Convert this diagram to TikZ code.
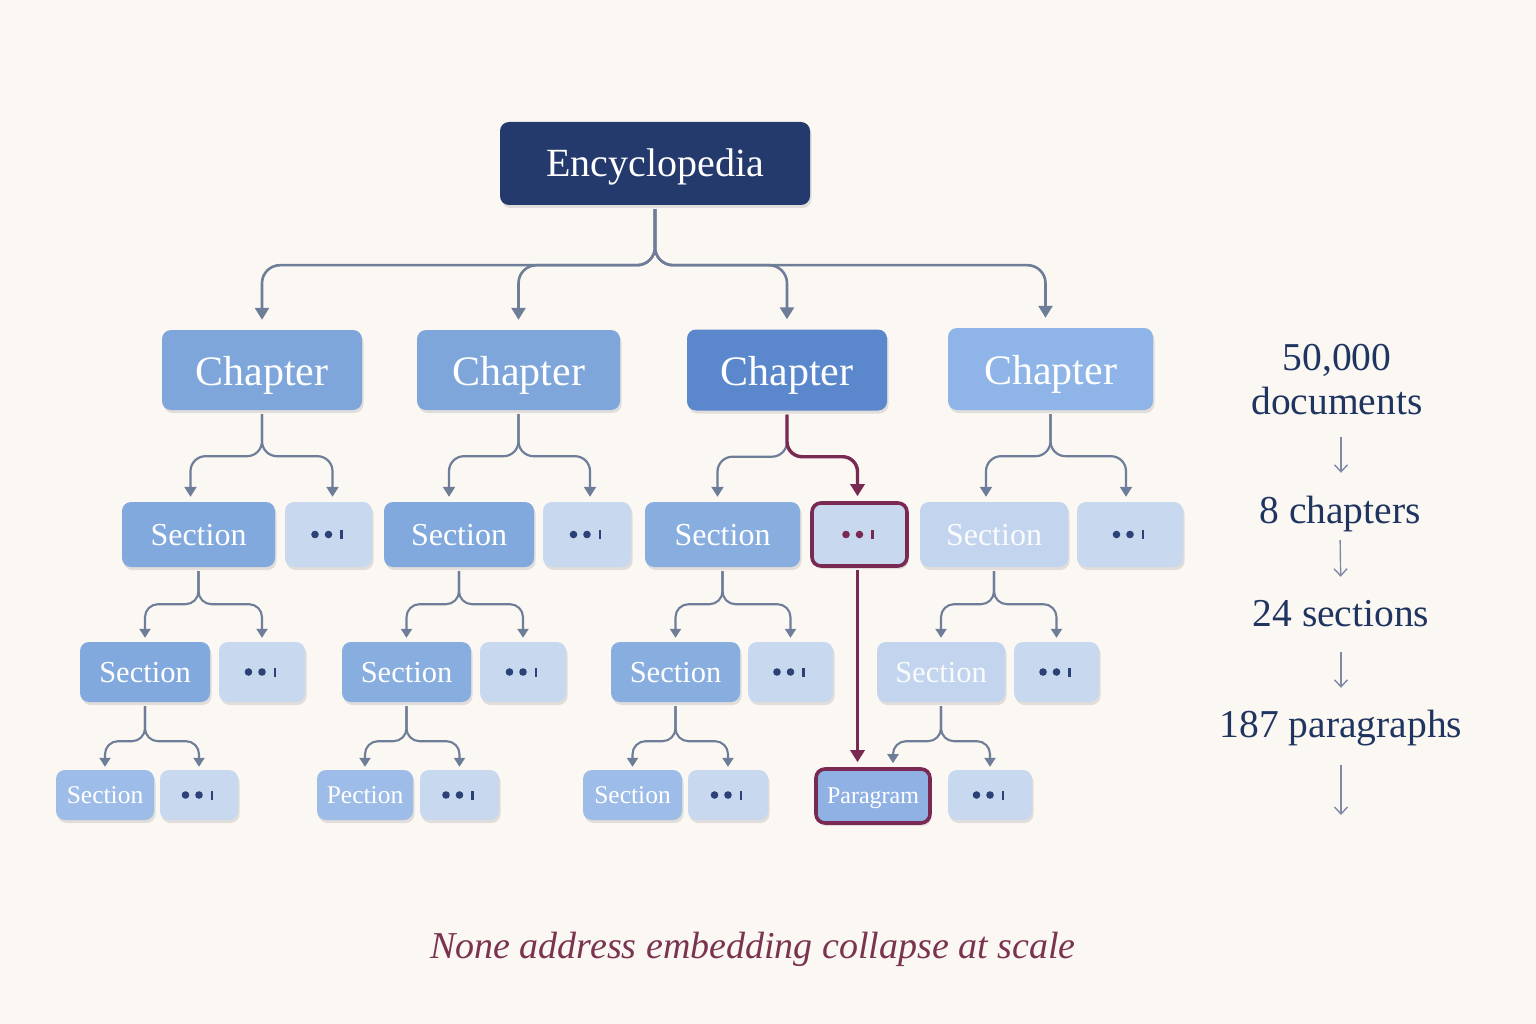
\documentclass[tikz,border=0pt]{standalone}
\usepackage{fontspec}
\setmainfont{Liberation Serif}
\usetikzlibrary{arrows.meta,shadows}
\definecolor{bg}{HTML}{FBF7F3}
\definecolor{navy}{HTML}{24396C}
\definecolor{chA}{HTML}{7EA6DB}
\definecolor{chB}{HTML}{5B87CC}
\definecolor{chC}{HTML}{8FB4E7}
\definecolor{secA}{HTML}{82A9DD}
\definecolor{secB}{HTML}{88AEE0}
\definecolor{secC}{HTML}{9DBDE8}
\definecolor{secP}{HTML}{C3D5EE}
\definecolor{dotbox}{HTML}{C8D8EE}
\definecolor{parfill}{HTML}{8FB1E3}
\definecolor{connc}{HTML}{6E7E98}
\definecolor{maroon}{HTML}{7A2A52}
\definecolor{txt}{HTML}{1F3560}
\definecolor{dotc}{HTML}{2C4178}
\definecolor{capc}{HTML}{7A3450}
\definecolor{statarrow}{HTML}{7F8AA6}
\begin{document}
\begin{tikzpicture}[x=1pt,y=-1pt,
  box/.style={rectangle, rounded corners=9pt, inner sep=0pt, text=white,
    drop shadow={shadow xshift=1.5pt, shadow yshift=-3pt, opacity=0.10, fill=black}},
  encbox/.style={box, fill=navy, minimum width=310pt, minimum height=83pt,
    font=\fontsize{40}{42}\selectfont, text height=27pt, text depth=0pt},
  chap/.style={box, minimum width=200pt, minimum height=80pt,
    font=\fontsize{42}{44}\selectfont, text height=31pt, text depth=0pt},
  sectwo/.style={box, minimum height=65pt, font=\fontsize{32}{34}\selectfont,
    text height=21pt, text depth=0pt},
  secthree/.style={box, minimum height=60pt, font=\fontsize{30.5}{32}\selectfont,
    text height=20pt, text depth=0pt},
  secfour/.style={box, minimum height=50pt, font=\fontsize{25.5}{27}\selectfont,
    text height=16pt, text depth=0pt},
  dotmarks/.style={path picture={
    \fill[#1, sharp corners] ([xshift=-13.5pt]path picture bounding box.center) circle[radius=3.8pt];
    \fill[#1, sharp corners] (path picture bounding box.center) circle[radius=3.8pt];
    \fill[#1, sharp corners] ([xshift=11.5pt,yshift=-4.5pt]path picture bounding box.center) rectangle ++(2.8pt,9pt);}},
  dotbx/.style={box, fill=dotbox, dotmarks=dotc},
  lvlone/.style={draw=connc, line width=2.6pt, rounded corners=18pt, shorten <=4pt,
    -{Triangle[length=12pt,width=14pt]}, shorten >=10pt},
  lvltwo/.style={draw=connc, line width=2.2pt, rounded corners=15pt, shorten <=4pt,
    -{Triangle[length=10pt,width=12pt]}, shorten >=5pt},
  lvlthree/.style={draw=connc, line width=2.1pt, rounded corners=13pt, shorten <=4pt,
    -{Triangle[length=9pt,width=11pt]}, shorten >=4pt},
  redconn/.style={draw=maroon, line width=3.4pt, rounded corners=15pt,
    -{Triangle[length=12pt,width=14pt]}},
  stat/.style={text=txt, font=\fontsize{39.5}{42}\selectfont, inner sep=0pt, anchor=base,
    text height=26pt, text depth=8pt},
  statarr/.style={draw=statarrow, line width=1.4pt, -{Straight Barb[length=7pt,width=13pt]}}
]
\fill[bg] (0,0) rectangle (1536,1024);
\useasboundingbox (0,0) rectangle (1536,1024);

% root
\node[encbox] (enc) at (655,163.5) {Encyclopedia};

% chapters
\node[chap, fill=chA] (c1) at (262,370) {Chapter};
\node[chap, fill=chA, minimum width=203pt] (c2) at (518.5,370) {Chapter};
\node[chap, fill=chB, minimum height=81pt] (c3) at (787,370) {Chapter};
\node[chap, fill=chC, minimum width=205pt, minimum height=82pt] (c4) at (1050.5,369) {Chapter};

% row 2
\node[sectwo, fill=secA, minimum width=153pt] (s21) at (198.5,534.5) {Section};
\node[dotbx, minimum width=87pt, minimum height=65pt] (d21) at (328.5,534.5) {};
\node[sectwo, fill=secA, minimum width=150pt] (s22) at (459,534.5) {Section};
\node[dotbx, minimum width=88pt, minimum height=65pt] (d22) at (587,534.5) {};
\node[sectwo, fill=secB, minimum width=155pt] (s23) at (722.5,534.5) {Section};
\node[box, fill=dotbox, draw=maroon, line width=3.6pt, dotmarks=maroon, minimum width=95pt, minimum height=63pt] (d23) at (859.5,534.5) {};
\node[sectwo, fill=secP, text=white!90!secP, minimum width=148pt] (s24) at (994,534.5) {Section};
\node[dotbx, minimum width=106pt, minimum height=65pt] (d24) at (1130,534.5) {};

% row 3
\node[secthree, fill=secA, minimum width=130pt] (s31) at (145,672) {Section};
\node[dotbx, minimum width=86pt, minimum height=60pt] (d31) at (262,672) {};
\node[secthree, fill=secB, minimum width=129pt] (s32) at (406.5,672) {Section};
\node[dotbx, minimum width=86pt, minimum height=60pt] (d32) at (523,672) {};
\node[secthree, fill=secB, minimum width=129pt] (s33) at (675.5,672) {Section};
\node[dotbx, minimum width=85pt, minimum height=60pt] (d33) at (790.5,672) {};
\node[secthree, fill=secP, text=white!90!secP, minimum width=128pt] (s34) at (941,672) {Section};
\node[dotbx, minimum width=85pt, minimum height=60pt] (d34) at (1056.5,672) {};

% row 4
\node[secfour, fill=secC, minimum width=98pt] (s41) at (105,795) {Section};
\node[dotbx, minimum width=78pt, minimum height=50pt] (d41) at (199,795) {};
\node[secfour, fill=secC, minimum width=96pt] (s42) at (365,795) {Pection};
\node[dotbx, minimum width=79pt, minimum height=50pt] (d42) at (459.5,795) {};
\node[secfour, fill=secC, minimum width=99pt] (s43) at (632.5,795) {Section};
\node[dotbx, minimum width=80pt, minimum height=50pt] (d43) at (728,795) {};
\node[box, fill=parfill, draw=maroon, line width=3.6pt, minimum width=114pt, minimum height=54pt,
      font=\fontsize{24}{26}\selectfont, text height=14pt, text depth=0pt] (par) at (873,796) {Paragram};
\node[dotbx, minimum width=84pt, minimum height=50pt] (d44) at (990,795) {};

% level 1 connectors
\draw[lvlone] (enc.south) -- ++(0,60) -| (c1.north);
\draw[lvlone] (enc.south) -- ++(0,60) -| (c2.north);
\draw[lvlone] (enc.south) -- ++(0,60) -| (c3.north);
\draw[lvlone] (enc.south) -- ++(0,60) -| ([xshift=-5pt]c4.north);

% level 2 connectors
\draw[lvltwo] (c1.south) -- ++(0,46) -| ([xshift=-8pt]s21.north);
\draw[lvltwo] (c1.south) -- ++(0,46) -| ([xshift=4pt]d21.north);
\draw[lvltwo] (c2.south) -- ++(0,46) -| ([xshift=-10pt]s22.north);
\draw[lvltwo] (c2.south) -- ++(0,46) -| ([xshift=3pt]d22.north);
\draw[lvltwo] (c3.south) -- ++(0,46) -| ([xshift=-5pt]s23.north);
\draw[lvltwo] (c4.south) -- ++(0,46) -| ([xshift=-8pt]s24.north);
\draw[lvltwo] (c4.south) -- ++(0,46) -| ([xshift=-4pt]d24.north);

% level 3 connectors
\draw[lvlthree] (s21.south) -- ++(0,37) -| (s31.north);
\draw[lvlthree] (s21.south) -- ++(0,37) -| (d31.north);
\draw[lvlthree] (s22.south) -- ++(0,37) -| (s32.north);
\draw[lvlthree] (s22.south) -- ++(0,37) -| (d32.north);
\draw[lvlthree] (s23.south) -- ++(0,37) -| (s33.north);
\draw[lvlthree] (s23.south) -- ++(0,37) -| (d33.north);
\draw[lvlthree] (s24.south) -- ++(0,37) -| (s34.north);
\draw[lvlthree] (s24.south) -- ++(0,37) -| (d34.north);

% level 4 connectors
\draw[lvlthree, shorten >=3pt] (s31.south) -- ++(0,39) -| (s41.north);
\draw[lvlthree, shorten >=3pt] (s31.south) -- ++(0,39) -| (d41.north);
\draw[lvlthree, shorten >=3pt] (s32.south) -- ++(0,39) -| (s42.north);
\draw[lvlthree, shorten >=3pt] (s32.south) -- ++(0,39) -| (d42.north);
\draw[lvlthree, shorten >=3pt] (s33.south) -- ++(0,39) -| (s43.north);
\draw[lvlthree, shorten >=3pt] (s33.south) -- ++(0,39) -| (d43.north);
\draw[lvlthree, shorten >=4pt] (s34.south) -- ++(0,39) -| ([xshift=20pt]par.north);
\draw[lvlthree, shorten >=3pt] (s34.south) -- ++(0,39) -| (d44.north);

% highlighted path
\draw[redconn, shorten <=4pt, shorten >=5pt] (c3.south) -- ++(0,46) -| ([xshift=-2pt]d23.north);
\draw[redconn, rounded corners=0pt, shorten <=2pt, shorten >=5pt] ([xshift=-2pt]d23.south) -- ([xshift=-2pt]d23.south |- par.north);

% statistics column
\node[stat] (n0) at (1337,370) {50,000};
\node[stat] (n1) at (1337,414) {documents};
\node[stat] (n2) at (1340,523) {8 chapters};
\node[stat] (n3) at (1341,626) {24 sections};
\node[stat] (n4) at (1341,737) {187 paragraphs};
\coordinate (nend) at (1341,815);
\draw[statarr, shorten <=15pt, shorten >=24pt] ([xshift=4pt]n1.south) -- ([xshift=1pt]n2.north);
\draw[statarr, shorten <=9pt, shorten >=23pt] (n2.south) -- (n3.north);
\draw[statarr, shorten <=18pt, shorten >=23pt] (n3.south) -- (n4.north);
\draw[statarr, shorten <=20pt] (n4.south) -- (nend);

% caption
\node[text=capc, font=\itshape\fontsize{38}{42}\selectfont, inner sep=0pt] (cap) at (753,949)
  {None address embedding collapse at scale};
\end{tikzpicture}
\end{document}
